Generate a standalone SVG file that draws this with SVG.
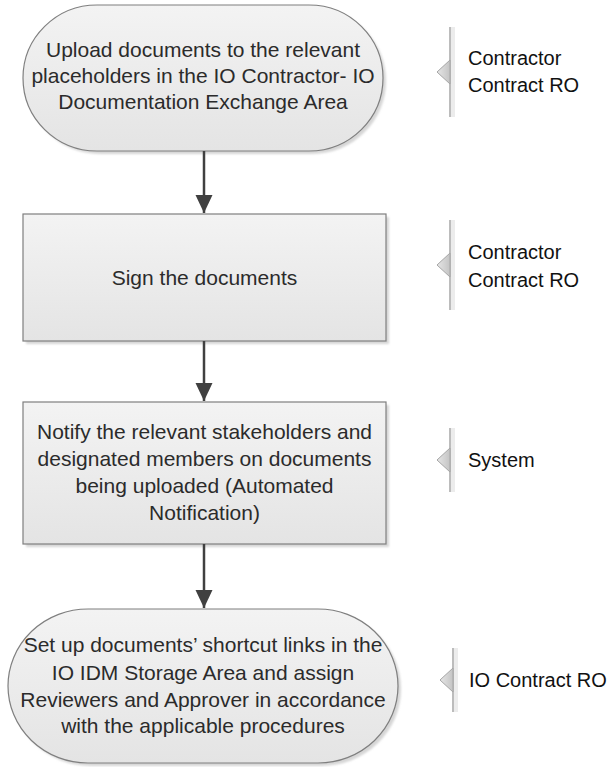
<svg xmlns="http://www.w3.org/2000/svg" width="611" height="767" viewBox="0 0 611 767">
<defs>
<linearGradient id="fillG" x1="0" y1="0" x2="0" y2="1">
<stop offset="0" stop-color="#f3f3f3"/>
<stop offset="1" stop-color="#e4e4e4"/>
</linearGradient>
<linearGradient id="triG" x1="0" y1="0" x2="1" y2="0">
<stop offset="0" stop-color="#e6e6e6"/>
<stop offset="1" stop-color="#c4c4c4"/>
</linearGradient>
<filter id="blur" x="-10%" y="-10%" width="120%" height="120%">
<feGaussianBlur stdDeviation="1.2"/>
</filter>
<marker id="arr" markerWidth="18" markerHeight="18" viewBox="0 0 18 18" refX="18" refY="9" orient="auto" markerUnits="userSpaceOnUse">
<path d="M0,0.5 L18,9 L0,17.5 Z" fill="#404040"/>
</marker>
</defs>
<style>
.shape{fill:url(#fillG);stroke:#7f7f7f;stroke-width:1.2}
.shadow{fill:#d6d6d6;filter:url(#blur)}
.t{font-family:"Liberation Sans",Arial,sans-serif;font-size:21px;fill:#2b2b2b;text-anchor:middle}
.lbl{font-family:"Liberation Sans",Arial,sans-serif;font-size:20px;fill:#111}
.vline{stroke:#a6a6a6;stroke-width:1.5}
.vsh{fill:#ececec}
.tri{fill:url(#triG);stroke:#a6a6a6;stroke-width:1}
.conn{stroke:#404040;stroke-width:2.5;fill:none}
</style>

<g id="node1">
<rect class="shadow" x="26" y="8" width="360" height="146" rx="74" ry="73"/>
<rect class="shape" x="23" y="5" width="360" height="146" rx="74" ry="73"/>
<text class="t" x="203" y="57">Upload documents to the relevant</text>
<text class="t" x="203" y="83">placeholders in the IO Contractor- IO</text>
<text class="t" x="203" y="109">Documentation Exchange Area</text>
</g>

<g id="node2">
<rect class="shadow" x="26" y="217" width="363" height="127"/>
<rect class="shape" x="23" y="214" width="363" height="127"/>
<text class="t" x="204.5" y="285">Sign the documents</text>
</g>

<g id="node3">
<rect class="shadow" x="26" y="405" width="363" height="142"/>
<rect class="shape" x="23" y="402" width="363" height="142"/>
<text class="t" x="204.5" y="439">Notify the relevant stakeholders and</text>
<text class="t" x="204.5" y="466">designated members on documents</text>
<text class="t" x="204.5" y="493">being uploaded (Automated</text>
<text class="t" x="204.5" y="520">Notification)</text>
</g>

<g id="node4">
<rect class="shadow" x="11" y="612" width="390" height="154" rx="80" ry="77"/>
<rect class="shape" x="8" y="609" width="390" height="154" rx="80" ry="77"/>
<text class="t" x="203" y="652">Set up documents’ shortcut links in the</text>
<text class="t" x="203" y="680">IO IDM Storage Area and assign</text>
<text class="t" x="203" y="707">Reviewers and Approver in accordance</text>
<text class="t" x="203" y="733">with the applicable procedures</text>
</g>

<g id="connectors">
<line class="conn" x1="204" y1="151" x2="204" y2="213" marker-end="url(#arr)"/>
<line class="conn" x1="204" y1="341" x2="204" y2="401" marker-end="url(#arr)"/>
<line class="conn" x1="204" y1="544" x2="204" y2="608" marker-end="url(#arr)"/>
</g>

<g id="label1">
<rect class="vsh" x="451" y="27" width="4" height="90"/>
<line class="vline" x1="450" y1="27" x2="450" y2="117"/>
<polygon class="tri" points="450,60 437,72 450,84"/>
<text class="lbl" x="468" y="65">Contractor</text>
<text class="lbl" x="468" y="92">Contract RO</text>
</g>

<g id="label2">
<rect class="vsh" x="451" y="220" width="4" height="90"/>
<line class="vline" x1="450" y1="220" x2="450" y2="310"/>
<polygon class="tri" points="450,253 437,265 450,277"/>
<text class="lbl" x="468" y="259">Contractor</text>
<text class="lbl" x="468" y="287">Contract RO</text>
</g>

<g id="label3">
<rect class="vsh" x="451" y="428" width="4" height="64"/>
<line class="vline" x1="450" y1="428" x2="450" y2="492"/>
<polygon class="tri" points="450,448 437,460 450,472"/>
<text class="lbl" x="468" y="467">System</text>
</g>

<g id="label4">
<rect class="vsh" x="454" y="648" width="4" height="64"/>
<line class="vline" x1="453" y1="648" x2="453" y2="712"/>
<polygon class="tri" points="453,668 440,680 453,692"/>
<text class="lbl" x="469" y="687">IO Contract RO</text>
</g>
</svg>
